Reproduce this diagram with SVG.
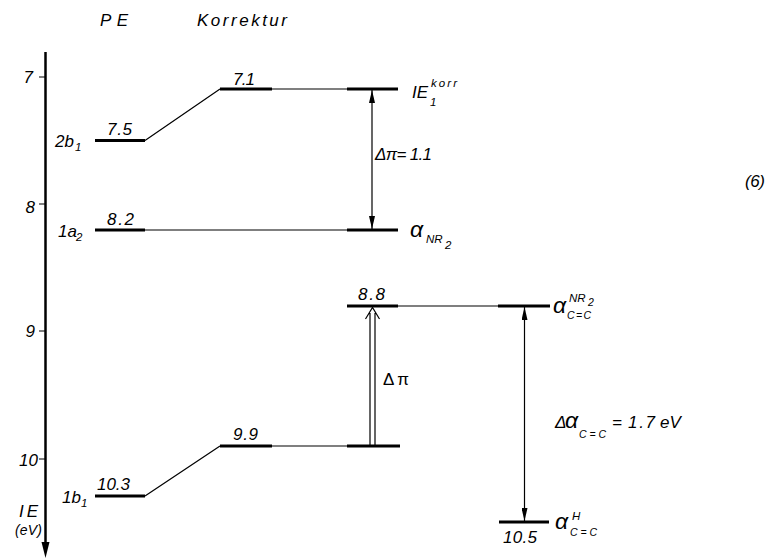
<svg xmlns="http://www.w3.org/2000/svg" width="774" height="560" viewBox="0 0 774 560">
<style>
text{font-family:"Liberation Sans",Arial,sans-serif;font-style:italic;font-size:17px;fill:#000}
.s{font-size:11.5px}
.t{font-size:10.5px}
.a{font-size:23px}
.e{font-size:14px}
.up{font-style:normal}
.lvl{stroke:#000;stroke-width:3;fill:none}
.thin{stroke:#000;stroke-width:1.2;fill:none}
.ax{stroke:#000;stroke-width:2.5;fill:none}
</style>
<defs>
<marker id="tip" viewBox="0 0 13 6" refX="13" refY="3" markerWidth="13" markerHeight="6" orient="auto-start-reverse" markerUnits="userSpaceOnUse">
<path d="M0,0 L13,3 L0,6 z" fill="#000"/>
</marker>
</defs>
<rect width="774" height="560" fill="#fff"/>

<g id="header">
<text x="100" y="26" textLength="28" lengthAdjust="spacing">PE</text>
<text x="197" y="26" textLength="90" lengthAdjust="spacing">Korrektur</text>
<text x="745" y="187" textLength="20" lengthAdjust="spacing">(6)</text>
</g>

<g id="axis">
<line class="ax" x1="45.5" y1="52" x2="45.5" y2="546"/>
<polygon points="41.5,542 49.5,542 45.5,558" fill="#000"/>
<path class="thin" d="M39,77 H45 M39,204 H45 M39,331 H45 M39,459 H45"/>
<text x="33" y="83" text-anchor="end">7</text>
<text x="35" y="213" text-anchor="end">8</text>
<text x="35" y="337" text-anchor="end">9</text>
<text x="38" y="466" text-anchor="end">10</text>
<text x="19" y="517" textLength="19" lengthAdjust="spacing">IE</text>
<text class="e" x="15" y="535" textLength="27" lengthAdjust="spacing">(eV)</text>
</g>

<g id="pe-2b1">
<line class="lvl" x1="95" y1="140.5" x2="145" y2="140.5"/>
<text x="107" y="135" textLength="25" lengthAdjust="spacing">7.5</text>
<text x="55" y="147">2b</text><text class="s" x="75" y="151">1</text>
</g>
<g id="pe-1a2">
<line class="lvl" x1="95" y1="230" x2="145" y2="230"/>
<text x="107" y="225" textLength="27" lengthAdjust="spacing">8.2</text>
<text x="58" y="237">1a</text><text class="s" x="76" y="241">2</text>
</g>
<g id="pe-1b1">
<line class="lvl" x1="95" y1="496" x2="145" y2="496"/>
<text x="97" y="490" textLength="33" lengthAdjust="spacing">10.3</text>
<text x="62" y="503">1b</text><text class="s" x="81" y="507">1</text>
</g>

<g id="korr-71">
<line class="lvl" x1="220" y1="89" x2="272" y2="89"/>
<text x="233" y="85" textLength="22" lengthAdjust="spacing">7.1</text>
</g>
<g id="korr-99">
<line class="lvl" x1="220" y1="446" x2="272" y2="446"/>
<text x="233" y="440" textLength="25" lengthAdjust="spacing">9.9</text>
</g>

<g id="ie1korr">
<line class="lvl" x1="347" y1="89" x2="398" y2="89"/>
<text x="412" y="98">IE</text>
<text class="s" x="431" y="87" textLength="26" lengthAdjust="spacing">korr</text>
<text class="s" x="430" y="106">1</text>
</g>
<g id="alpha-nr2">
<line class="lvl" x1="347" y1="230" x2="398" y2="230"/>
<text class="a" x="410" y="237">α</text>
<text class="s" x="426" y="243">NR</text>
<text class="s" x="445" y="249">2</text>
</g>
<g id="level-88">
<line class="lvl" x1="347" y1="306" x2="398" y2="306"/>
<text x="358" y="300" textLength="27" lengthAdjust="spacing">8.8</text>
</g>
<g id="level-99r">
<line class="lvl" x1="347" y1="446" x2="400" y2="446"/>
</g>
<g id="alpha-cc-nr2">
<line class="lvl" x1="498" y1="306" x2="550" y2="306"/>
<text class="a" x="553" y="313">α</text>
<text class="s" x="569" y="302">NR</text>
<text class="t" x="588" y="306">2</text>
<text class="t" x="567" y="319" textLength="24" lengthAdjust="spacing">C=C</text>
</g>
<g id="alpha-cc-h">
<line class="lvl" x1="499" y1="522" x2="549" y2="522"/>
<text x="503" y="543" textLength="34" lengthAdjust="spacing">10.5</text>
<text class="a" x="555" y="529">α</text>
<text class="s" x="572" y="520">H</text>
<text class="t" x="570" y="536" textLength="27" lengthAdjust="spacing">C=C</text>
</g>
<g id="delta-alpha-label">
<text x="555" y="428">Δ</text><text class="a" x="565" y="428">α</text>
<text class="t" x="579" y="438" textLength="27" lengthAdjust="spacing">C=C</text>
<text x="612" y="428">=</text>
<text x="628" y="428" textLength="27" lengthAdjust="spacing">1.7</text>
<text x="660" y="428">eV</text>
</g>

<g id="connectors">
<path class="thin" d="M145,140.5 L220,89 M272,89 H347 M145,230 H347 M398,306 H498 M145,496 L220,446 M272,446 H347"/>
<line class="thin" x1="372" y1="90" x2="372" y2="229" marker-start="url(#tip)" marker-end="url(#tip)"/>
<text x="375" y="160" textLength="57" lengthAdjust="spacing">Δπ= 1.1</text>
<line class="thin" x1="524.5" y1="307" x2="524.5" y2="521" marker-start="url(#tip)" marker-end="url(#tip)"/>
<path class="thin" d="M370,445 V313 M375,445 V313 M365.5,319 L372.5,307.5 L379.5,319"/>
<text class="up" x="383" y="385" textLength="26" lengthAdjust="spacing">Δπ</text>
</g>
</svg>
